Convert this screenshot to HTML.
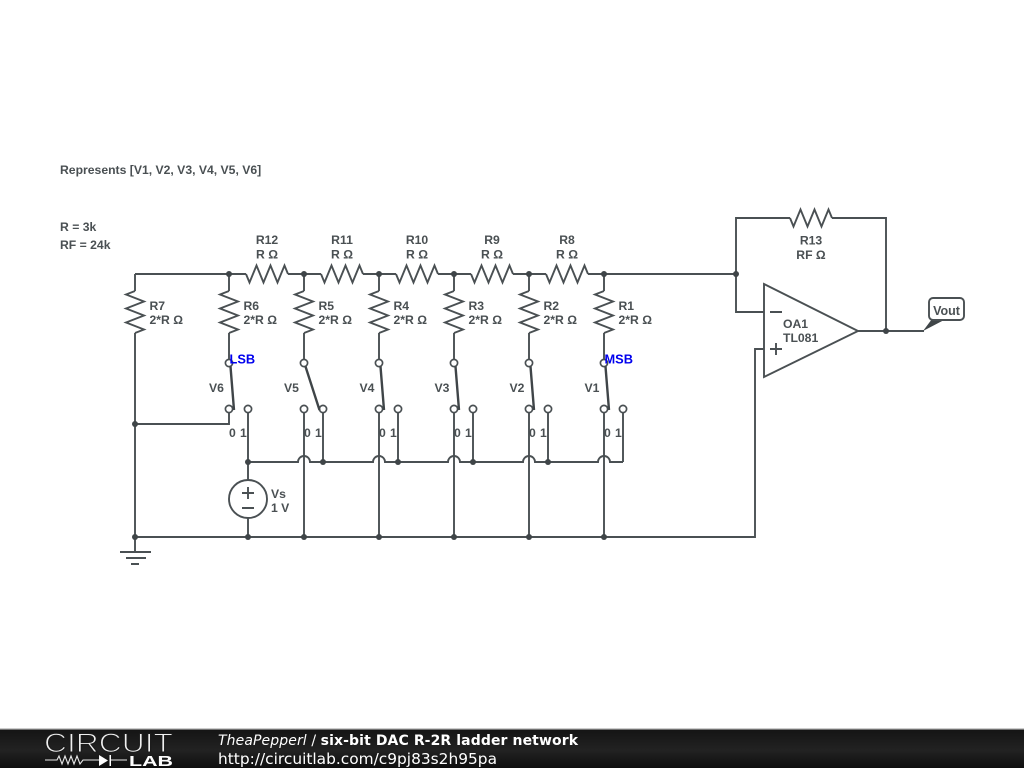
<!DOCTYPE html>
<html><head><meta charset="utf-8"><style>
html,body{margin:0;padding:0;background:#fff;width:1024px;height:768px;overflow:hidden}
svg{display:block;position:absolute;left:0;top:0}
.t{font:bold 12.2px "Liberation Sans",sans-serif;fill:#4a5053}
.c{text-anchor:middle}
.b{font:bold 12.8px "Liberation Sans",sans-serif;fill:#0000ee}
.w{fill:none;stroke:#4a5053;stroke-width:1.9}
.f{font-family:"DejaVu Sans",sans-serif;font-size:14px;fill:#fff}
</style></head><body>
<svg width="1024" height="768" viewBox="0 0 1024 768" xmlns="http://www.w3.org/2000/svg">
<defs>
<polyline id="rh" class="w" points="0,0 3.5,8.5 10.5,-8.5 17.5,8.5 24.5,-8.5 31.5,8.5 38.5,-8.5 42,0"/>
<polyline id="rv" class="w" points="0,0 -9,3.5 9,10.5 -9,17.5 9,24.5 -9,31.5 9,38.5 0,42"/>
<circle id="n" r="3" fill="#3f4548"/>
<circle id="o" r="3.6" fill="#fff" stroke="#4a5053" stroke-width="1.7"/>
<linearGradient id="fg" x1="0" y1="0" x2="0" y2="1">
<stop offset="0" stop-color="#141414"/><stop offset=".55" stop-color="#222"/><stop offset="1" stop-color="#0e0e0e"/>
</linearGradient>
</defs>

<!-- wires -->
<path class="w" d="M135,274H246M288,274H321M363,274H396M438,274H471M513,274H546M588,274H736M135,274V291M135,333V537M135,424H229V409M135,537H755V349H764M135,537V552"/>
<path class="w" d="M229,274V291M229,333V363M304,274V291M304,333V363M379,274V291M379,333V363M454,274V291M454,333V363M529,274V291M529,333V363M604,274V291M604,333V363"/>
<path class="w" d="M304,409V537M379,409V537M454,409V537M529,409V537M604,409V537"/>
<path class="w" d="M248,409V480M248,518V537M323,409V462M398,409V462M473,409V462M548,409V462M623,409V462"/>
<path class="w" d="M248,462H298a6,6 0 0 1 12,0H373a6,6 0 0 1 12,0H448a6,6 0 0 1 12,0H523a6,6 0 0 1 12,0H598a6,6 0 0 1 12,0H623"/>
<path class="w" d="M736,274V218H790M832,218H886V331M736,274V312H764M858,331H924"/>
<path class="w" d="M120,552H151M126,558H146M131,564H139"/>

<!-- resistors -->
<use href="#rh" x="246" y="274"/><use href="#rh" x="321" y="274"/><use href="#rh" x="396" y="274"/><use href="#rh" x="471" y="274"/><use href="#rh" x="546" y="274"/><use href="#rh" x="790" y="218"/>
<use href="#rv" x="135" y="291"/><use href="#rv" x="229" y="291"/><use href="#rv" x="304" y="291"/><use href="#rv" x="379" y="291"/><use href="#rv" x="454" y="291"/><use href="#rv" x="529" y="291"/><use href="#rv" x="604" y="291"/>

<!-- junctions -->
<use href="#n" x="229" y="274"/><use href="#n" x="304" y="274"/><use href="#n" x="379" y="274"/><use href="#n" x="454" y="274"/><use href="#n" x="529" y="274"/><use href="#n" x="604" y="274"/><use href="#n" x="736" y="274"/>
<use href="#n" x="135" y="424"/><use href="#n" x="886" y="331"/>
<use href="#n" x="248" y="462"/><use href="#n" x="323" y="462"/><use href="#n" x="398" y="462"/><use href="#n" x="473" y="462"/><use href="#n" x="548" y="462"/>
<use href="#n" x="135" y="537"/><use href="#n" x="248" y="537"/><use href="#n" x="304" y="537"/><use href="#n" x="379" y="537"/><use href="#n" x="454" y="537"/><use href="#n" x="529" y="537"/><use href="#n" x="604" y="537"/>

<!-- switch terminals -->
<use href="#o" x="229" y="363"/><use href="#o" x="229" y="409"/><use href="#o" x="248" y="409"/>
<use href="#o" x="304" y="363"/><use href="#o" x="304" y="409"/><use href="#o" x="323" y="409"/>
<use href="#o" x="379" y="363"/><use href="#o" x="379" y="409"/><use href="#o" x="398" y="409"/>
<use href="#o" x="454" y="363"/><use href="#o" x="454" y="409"/><use href="#o" x="473" y="409"/>
<use href="#o" x="529" y="363"/><use href="#o" x="529" y="409"/><use href="#o" x="548" y="409"/>
<use href="#o" x="604" y="363"/><use href="#o" x="604" y="409"/><use href="#o" x="623" y="409"/>
<!-- switch arms -->
<path d="M230.5,366.5L234,410M305.5,366.5L319.5,410M380.5,366.5L384,410M455.5,366.5L459,410M530.5,366.5L534,410M605.5,366.5L609,410" fill="none" stroke="#3f4548" stroke-width="2.4"/>

<!-- source -->
<circle cx="248" cy="499" r="19" fill="#fff" stroke="#4a5053" stroke-width="1.9"/>
<path class="w" d="M242,493H254M248,487V499M242,508H254"/>

<!-- opamp -->
<polygon points="764,284 858,331 764,377" fill="#fff" stroke="#4a5053" stroke-width="1.9"/>
<path class="w" d="M770,312H782M770,349H782M776,343V355"/>

<!-- Vout label -->
<polygon points="923,331 932,319 946,319" fill="#3f4548"/>
<rect x="929" y="298" width="35" height="22" rx="4" fill="#fff" stroke="#4a5053" stroke-width="1.9"/>
<text class="t c" x="946.5" y="315" style="font-size:12.5px">Vout</text>

<!-- text -->
<text class="t" x="60" y="174">Represents [V1, V2, V3, V4, V5, V6]</text>
<text class="t" x="60" y="231">R = 3k</text>
<text class="t" x="60" y="249">RF = 24k</text>

<text class="t c" x="267" y="244">R12</text><text class="t c" x="267" y="258.500">R Ω</text>
<text class="t c" x="342" y="244">R11</text><text class="t c" x="342" y="258.500">R Ω</text>
<text class="t c" x="417" y="244">R10</text><text class="t c" x="417" y="258.500">R Ω</text>
<text class="t c" x="492" y="244">R9</text><text class="t c" x="492" y="258.500">R Ω</text>
<text class="t c" x="567" y="244">R8</text><text class="t c" x="567" y="258.500">R Ω</text>
<text class="t c" x="811" y="244.500">R13</text><text class="t c" x="811" y="259">RF Ω</text>

<text class="t" x="149.500" y="310">R7</text><text class="t" x="149.500" y="324">2*R Ω</text>
<text class="t" x="243.500" y="310">R6</text><text class="t" x="243.500" y="324">2*R Ω</text>
<text class="t" x="318.500" y="310">R5</text><text class="t" x="318.500" y="324">2*R Ω</text>
<text class="t" x="393.500" y="310">R4</text><text class="t" x="393.500" y="324">2*R Ω</text>
<text class="t" x="468.500" y="310">R3</text><text class="t" x="468.500" y="324">2*R Ω</text>
<text class="t" x="543.500" y="310">R2</text><text class="t" x="543.500" y="324">2*R Ω</text>
<text class="t" x="618.500" y="310">R1</text><text class="t" x="618.500" y="324">2*R Ω</text>

<text class="b" x="229.500" y="363.500">LSB</text>
<text class="b" x="604.500" y="363.500">MSB</text>

<text class="t" x="209" y="392">V6</text><text class="t" x="284" y="392">V5</text><text class="t" x="359.500" y="392">V4</text><text class="t" x="434.500" y="392">V3</text><text class="t" x="509.500" y="392">V2</text><text class="t" x="584.500" y="392">V1</text>

<text class="t" x="229" y="437">0</text><text class="t" x="240" y="437">1</text>
<text class="t" x="304" y="437">0</text><text class="t" x="315" y="437">1</text>
<text class="t" x="379" y="437">0</text><text class="t" x="390" y="437">1</text>
<text class="t" x="454" y="437">0</text><text class="t" x="465" y="437">1</text>
<text class="t" x="529" y="437">0</text><text class="t" x="540" y="437">1</text>
<text class="t" x="604" y="437">0</text><text class="t" x="615" y="437">1</text>

<text class="t" x="271" y="498">Vs</text><text class="t" x="271" y="512">1 V</text>
<text class="t" x="783" y="328">OA1</text><text class="t" x="783" y="342">TL081</text>

<!-- footer -->
<rect x="0" y="729" width="1024" height="39" fill="url(#fg)"/>
<rect x="0" y="728.500" width="1024" height="1.200" fill="#9a9a9a"/>
<text x="44" y="752" textLength="129" lengthAdjust="spacingAndGlyphs" style="font:27px 'Liberation Sans',sans-serif;fill:#f0f0f0;stroke:#1c1c1c;stroke-width:1.1;paint-order:fill stroke">CIRCUIT</text>
<path d="M45,760H57L59,756L62,764L65,756L68,764L71,756L74,764L77,756L80,764L83,760H99M110,760H127" fill="none" stroke="#e8e8e8" stroke-width="1.1"/>
<polygon points="99,755 99,766 108,760.500" fill="#fff"/>
<rect x="109.500" y="755" width="1.500" height="11" fill="#fff"/>
<text x="129" y="766" textLength="44" lengthAdjust="spacingAndGlyphs" style="font:bold 15px 'Liberation Sans',sans-serif;fill:#fff">LAB</text>
<text class="f" x="218" y="745" textLength="360" lengthAdjust="spacing"><tspan font-style="italic">TheaPepperl</tspan> / <tspan font-weight="bold">six-bit DAC R-2R ladder network</tspan></text>
<text class="f" x="218" y="764" textLength="279" lengthAdjust="spacingAndGlyphs" style="font-size:15px">http://circuitlab.com/c9pj83s2h95pa</text>
</svg>
</body></html>
